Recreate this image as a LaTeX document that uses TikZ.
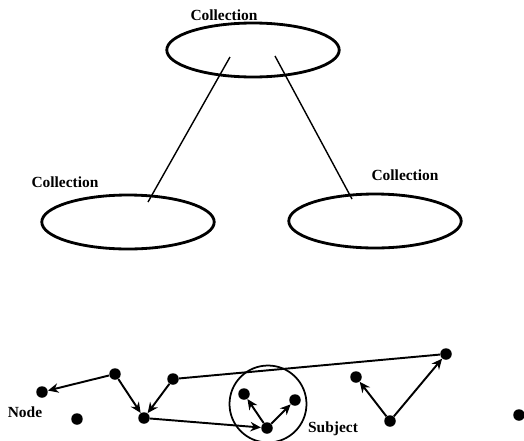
\documentclass[tikz,border=0pt]{standalone}
\usepackage{fontspec}
\setmainfont{Liberation Serif}
\usetikzlibrary{shapes.geometric,arrows.meta}

\tikzset{
    coll/.style={draw, ellipse, line width=1.6pt, minimum width=3.45cm, minimum height=1.08cm},
    label/.style={font=\bfseries\fontsize{8.8}{10}\selectfont},
    dot/.style={circle, fill, inner sep=0pt, minimum size=0.23cm},
    arr/.style={-{Stealth[length=2.1mm,width=1.9mm]}, line width=1.1pt},
    link/.style={line width=0.8pt}
}

\begin{document}
\begin{tikzpicture}[x=0.02cm, y=-0.02cm]
    \useasboundingbox (0,0) rectangle (524,440);
    % collections
    \node[coll] (Top) at (253,50) {};
    \node[coll] (Left) at (128,222) {};
    \node[coll] (Right) at (375,221) {};
    \node[label] (TopName) at (224,15) {Collection};
    \node[label] (LeftName) at (65,182) {Collection};
    \node[label] (RightName) at (405,175) {Collection};
    \coordinate (TopL) at (230,57);
    \coordinate (TopR) at (275,56);
    \coordinate (LeftIn) at (148,202);
    \coordinate (RightIn) at (352,199);
    \draw[link] (TopL) -- (LeftIn);
    \draw[link] (TopR) -- (RightIn);

    % nodes
    \node[dot] (A) at (42,392) {};
    \node[dot] (B) at (115,374) {};
    \node[dot] (C) at (144,418) {};
    \node[dot] (D) at (173,379) {};
    \node[dot] (E) at (244,394) {};
    \node[dot] (F) at (295,400) {};
    \node[dot] (G) at (267,428) {};
    \node[dot] (H) at (446,354) {};
    \node[dot] (I) at (356,377) {};
    \node[dot] (J) at (390,421) {};
    \node[dot] (Lone1) at (77,419) {};
    \node[dot] (Lone2) at (519,415) {};
    \node[draw, circle, line width=1pt, minimum size=1.54cm] (Subj) at (268,404) {};
    \node[label] (NodeName) at (25,412) {Node};
    \node[label] (SubjName) at (333,429) {Subject};

    \draw[arr] (B) -- (A);
    \draw[arr] (B) -- (C);
    \draw[arr] (D) -- (C);
    \draw[arr] (C) -- (G);
    \draw[link, line width=1.1pt] (D) -- (H);
    \draw[arr] (G) -- (E);
    \draw[arr] (G) -- (F);
    \draw[arr] (J) -- (I);
    \draw[arr] (J) -- (H);
\end{tikzpicture}
\end{document}
